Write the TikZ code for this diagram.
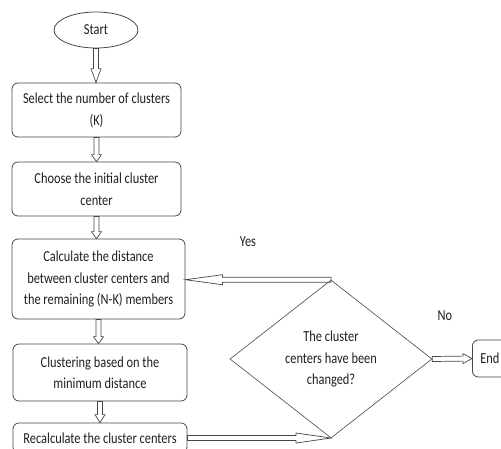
\documentclass[tikz,border=0pt]{standalone}
\usepackage{fontspec}
\setmainfont{Carlito}[FakeStretch=0.81]
\usetikzlibrary{calc,shapes.geometric}
\begin{document}
\begin{tikzpicture}[x=1pt,y=-1pt,
  every node/.style={font=\fontsize{15.3}{21.5}\selectfont, text=black!88},
  box/.style={draw=black!72, line width=0.8pt, rounded corners=6pt, align=center, inner sep=0pt},
  blk/.style={draw=black!72, line width=0.7pt, /utils/exec={\def\arrhl{#1}},
    to path={
      ($(\tikztostart)!2.5pt!-90:(\tikztotarget)$)
      -- ($(\tikztotarget)!\arrhl!(\tikztostart)!2.5pt!90:(\tikztostart)$)
      -- ($(\tikztotarget)!\arrhl!(\tikztostart)!5pt!90:(\tikztostart)$)
      -- (\tikztotarget)
      -- ($(\tikztotarget)!\arrhl!(\tikztostart)!5pt!-90:(\tikztostart)$)
      -- ($(\tikztotarget)!\arrhl!(\tikztostart)!2.5pt!-90:(\tikztostart)$)
      -- ($(\tikztostart)!2.5pt!90:(\tikztotarget)$)
      -- cycle}},
  blk/.default=8pt]
\useasboundingbox (0,0) rectangle (501,448);
\clip (0,0) rectangle (501,448);

\node[ellipse, draw=black!72, line width=0.8pt, minimum width=84pt, minimum height=36pt, inner sep=0pt] (start) at (96,30) {Start};
\node[box, minimum width=169pt, minimum height=54pt] (b1) at (96.5,110) {Select the number of clusters\\(K)};
\node[box, minimum width=169pt, minimum height=54pt] (b2) at (96.5,189) {Choose the initial cluster\\center};
\node[box, minimum width=173pt, minimum height=80pt] (b3) at (98.5,279) {Calculate the distance\\between cluster centers and\\the remaining (N-K) members};
\node[box, minimum width=174pt, minimum height=57pt] (b4) at (100,372.5) {Clustering based on the\\minimum distance};
\node[box, minimum width=174pt, minimum height=30pt] (b5) at (100,438) {Recalculate the cluster centers};
\node[diamond, aspect=1.28, draw=black!72, line width=0.6pt, minimum width=202pt, minimum height=158pt, inner sep=0pt, align=center] (dec) at (331,359) {The cluster\\centers have been\\changed?};
\node[box, anchor=west, text width=34pt, align=left, inner xsep=8pt, minimum height=37pt] (end) at (472,358.5) {End};

\node (yes) at (248,242) {Yes};
\node (no) at (445,316) {No};

\draw[blk=14pt] (start.south) to (start.south |- b1.north);
\draw[blk=7pt] (b1.south) to (b1.south |- b2.north);
\draw[blk=7pt] (b2.south) to (b2.south |- b3.north);
\draw[blk=7pt] (b3.south) to (b3.south |- b4.north);
\draw[blk=8pt] (b4.south) to (b4.south |- b5.north);
\draw[blk=37pt] (dec.north) to (dec.north -| b3.east);
\draw[blk=35pt] (b5.east) to (b5.east -| dec.south);
\draw[blk=9pt] (dec.east) to (end.west);
\end{tikzpicture}
\end{document}
